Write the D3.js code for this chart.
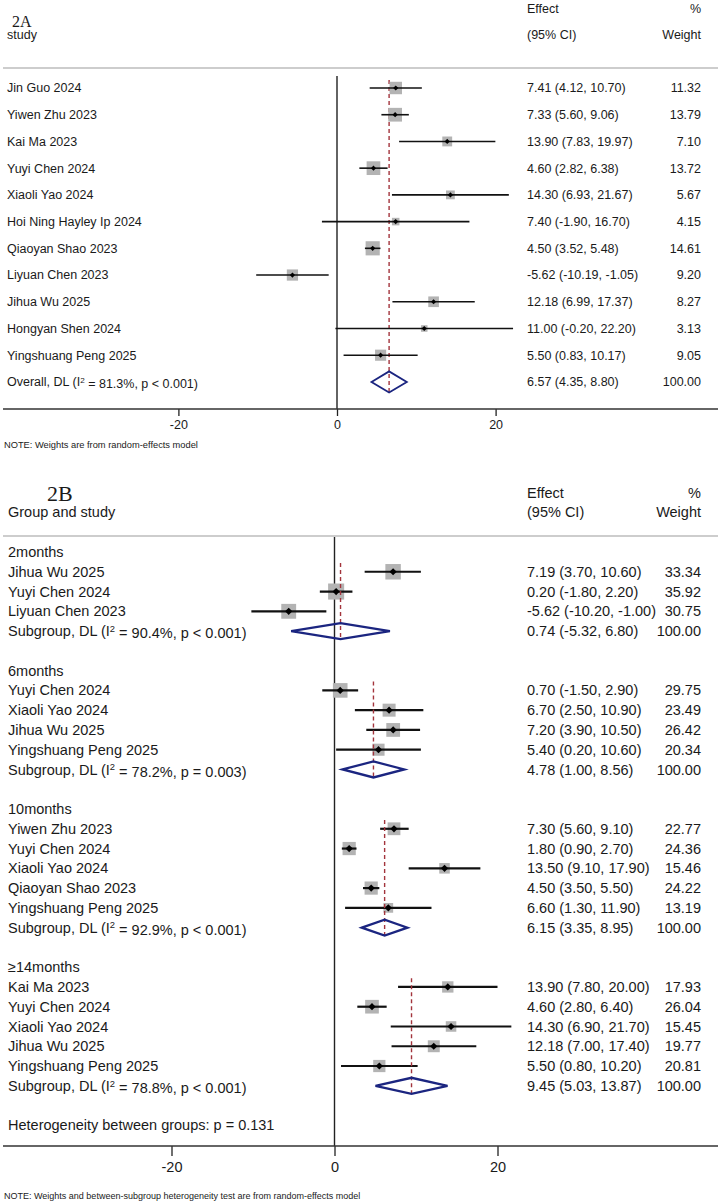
<!DOCTYPE html>
<html>
<head>
<meta charset="utf-8">
<script src="https://cdn.jsdelivr.net/npm/d3@7"></script>
<style>
body { margin: 0; background: #fff; }
text { font-family: "Liberation Sans", Arial, sans-serif; fill: #1a1a1a; }
</style>
</head>
<body>
<script>
// ---- panel 2A data ----
const studiesA = ["Jin Guo 2024", "Yiwen Zhu 2023", "Kai Ma 2023", "Yuyi Chen 2024", "Xiaoli Yao 2024",
  "Hoi Ning Hayley Ip 2024", "Qiaoyan Shao 2023", "Liyuan Chen 2023", "Jihua Wu 2025", "Hongyan Shen 2024",
  "Yingshuang Peng 2025"];
const effectA = [7.41, 7.33, 13.90, 4.60, 14.30, 7.40, 4.50, -5.62, 12.18, 11.00, 5.50];
const lowA = [4.12, 5.60, 7.83, 2.82, 6.93, -1.90, 3.52, -10.19, 6.99, -0.20, 0.83];
const highA = [10.70, 9.06, 19.97, 6.38, 21.67, 16.70, 5.48, -1.05, 17.37, 22.20, 10.17];
const weightA = [11.32, 13.79, 7.10, 13.72, 5.67, 4.15, 14.61, 9.20, 8.27, 3.13, 9.05];
const overallA = {label: "Overall, DL (I", i2: "81.3%", p: "p < 0.001", est: 6.57, low: 4.35, high: 8.80};

// ---- panel 2B data ----
const groupLabels = ["2months", "6months", "10months", "\u226514months"];
const studiesB = [
  ["Jihua Wu 2025", "Yuyi Chen 2024", "Liyuan Chen 2023"],
  ["Yuyi Chen 2024", "Xiaoli Yao 2024", "Jihua Wu 2025", "Yingshuang Peng 2025"],
  ["Yiwen Zhu 2023", "Yuyi Chen 2024", "Xiaoli Yao 2024", "Qiaoyan Shao 2023", "Yingshuang Peng 2025"],
  ["Kai Ma 2023", "Yuyi Chen 2024", "Xiaoli Yao 2024", "Jihua Wu 2025", "Yingshuang Peng 2025"]
];
const effectB = [[7.19, 0.20, -5.62], [0.70, 6.70, 7.20, 5.40], [7.30, 1.80, 13.50, 4.50, 6.60], [13.90, 4.60, 14.30, 12.18, 5.50]];
const lowB = [[3.70, -1.80, -10.20], [-1.50, 2.50, 3.90, 0.20], [5.60, 0.90, 9.10, 3.50, 1.30], [7.80, 2.80, 6.90, 7.00, 0.80]];
const highB = [[10.60, 2.20, -1.00], [2.90, 10.90, 10.50, 10.60], [9.10, 2.70, 17.90, 5.50, 11.90], [20.00, 6.40, 21.70, 17.40, 10.20]];
const weightB = [[33.34, 35.92, 30.75], [29.75, 23.49, 26.42, 20.34], [22.77, 24.36, 15.46, 24.22, 13.19], [17.93, 26.04, 15.45, 19.77, 20.81]];
const subEst = [0.74, 4.78, 6.15, 9.45];
const subLow = [-5.32, 1.00, 3.35, 5.03];
const subHigh = [6.80, 8.56, 8.95, 13.87];
const subI2 = ["90.4%", "78.2%", "92.9%", "78.8%"];
const subP = ["p < 0.001", "p = 0.003", "p < 0.001", "p < 0.001"];
const hetText = "Heterogeneity between groups: p = 0.131";

const tickVals = [-20, 0, 20];

const W = 718, H = 1202;
const colEffect = 527, colWeight = 701;
const sqColor = "#b3b3b3", diaColor = "#1b2580", refColor = "#a3343c";

const svg = d3.select("body")
  .append("svg")
  .attr("width", W)
  .attr("height", H);

const fmt = v => v.toFixed(2);
const ciText = (e, l, h) => `${fmt(e)} (${fmt(l)}, ${fmt(h)})`;

function header(g, o) {
  g.append("text").attr("x", o.titleX).attr("y", o.titleY).attr("dy", "0.35em")
    .style("font-family", "'Liberation Serif', 'Times New Roman', serif")
    .style("font-size", o.titleSize + "px").text(o.title);
  g.append("text").attr("x", o.textX).attr("y", o.y2).attr("dy", "0.35em")
    .style("font-size", o.fs + "px").text(o.colLabel);
  g.append("text").attr("x", colEffect).attr("y", o.y1).attr("dy", "0.35em")
    .style("font-size", o.fs + "px").text("Effect");
  g.append("text").attr("x", colWeight).attr("y", o.y1).attr("dy", "0.35em")
    .attr("text-anchor", "end").style("font-size", o.fs + "px").text("%");
  g.append("text").attr("x", colEffect).attr("y", o.y2).attr("dy", "0.35em")
    .style("font-size", o.fs + "px").text("(95% CI)");
  g.append("text").attr("x", colWeight).attr("y", o.y2).attr("dy", "0.35em")
    .attr("text-anchor", "end").style("font-size", o.fs + "px").text("Weight");
  g.append("line").attr("x1", 3).attr("x2", W).attr("y1", o.sepY).attr("y2", o.sepY)
    .attr("stroke", "#bdbdbd").attr("stroke-width", 1.5);
}

function studyRow(g, o, x, y, name, e, l, h, w) {
  g.append("text").attr("x", o.textX).attr("y", y).attr("dy", "0.35em")
    .style("font-size", o.fs + "px").text(name);
  const s = o.k * Math.sqrt(w);
  g.append("rect").attr("x", x(e) - s / 2).attr("y", y - s / 2)
    .attr("width", s).attr("height", s).attr("fill", sqColor);
  g.append("line").attr("x1", x(l)).attr("x2", x(h)).attr("y1", y).attr("y2", y)
    .attr("stroke", "#111").attr("stroke-width", o.ciW);
  const r = o.dot;
  g.append("path")
    .attr("d", `M${x(e) - r},${y}L${x(e)},${y - r}L${x(e) + r},${y}L${x(e)},${y + r}Z`)
    .attr("fill", "#000");
  g.append("text").attr("x", colEffect).attr("y", y).attr("dy", "0.35em")
    .style("font-size", o.fs + "px").text(ciText(e, l, h));
  g.append("text").attr("x", colWeight).attr("y", y).attr("dy", "0.35em")
    .attr("text-anchor", "end").style("font-size", o.fs + "px").text(fmt(w));
}

function pooledRow(g, o, x, y, prefix, i2, p, e, l, h) {
  const t = g.append("text").attr("x", o.textX).attr("y", y).attr("dy", "0.35em")
    .style("font-size", o.fs + "px");
  t.append("tspan").text(prefix);
  t.append("tspan").attr("dy", "-0.45em").style("font-size", (o.fs * 0.65) + "px").text("2");
  t.append("tspan").attr("dy", "0.45em").text(` = ${i2}, ${p})`);
  g.append("path")
    .attr("d", `M${x(l)},${y}L${x(e)},${y - o.dh}L${x(h)},${y}L${x(e)},${y + o.dh}Z`)
    .attr("fill", "none").attr("stroke", diaColor).attr("stroke-width", o.diaW);
  g.append("text").attr("x", colEffect).attr("y", y).attr("dy", "0.35em")
    .style("font-size", o.fs + "px").text(ciText(e, l, h));
  g.append("text").attr("x", colWeight).attr("y", y).attr("dy", "0.35em")
    .attr("text-anchor", "end").style("font-size", o.fs + "px").text("100.00");
}

function refLine(g, x, v, y1, y2) {
  g.append("line").attr("x1", x(v)).attr("x2", x(v)).attr("y1", y1).attr("y2", y2)
    .attr("stroke", refColor).attr("stroke-width", 1.4).attr("stroke-dasharray", "4,3");
}

function axis(g, o, x, axisY) {
  const ax = g.append("g")
    .attr("transform", `translate(0,${axisY})`)
    .call(d3.axisBottom(x).tickValues(tickVals).tickSize(o.tick).tickPadding(o.pad)
      .tickFormat(d => String(d)));
  ax.select(".domain").remove();
  ax.selectAll(".tick line").attr("stroke", "#222").attr("stroke-width", 1.3);
  ax.selectAll(".tick text").style("font-size", o.fs + "px")
    .style("font-family", "'Liberation Sans', Arial, sans-serif").attr("fill", "#1a1a1a");
  g.append("line").attr("x1", 3).attr("x2", W).attr("y1", axisY).attr("y2", axisY)
    .attr("stroke", "#333").attr("stroke-width", 1.5);
}

// ================= Panel 2A =================
const optA = {fs: 12.5, textX: 7, k: 3.7, ciW: 1.6, dot: 2.6, dh: 10.5, diaW: 1.8, tick: 7, pad: 4,
  title: "2A", titleX: 12, titleY: 21, titleSize: 16, colLabel: "study", y1: 9, y2: 35, sepY: 68};
const gA = svg.append("g");
const xA = d3.scaleLinear().domain([-20, 20]).range([178.4, 495.6]);
const rowA = i => 88 + i * 26.72;
const axisYA = 409;

header(gA, optA);
gA.append("line").attr("x1", xA(0)).attr("x2", xA(0)).attr("y1", 76).attr("y2", axisYA)
  .attr("stroke", "#222").attr("stroke-width", 1.4);
refLine(gA, xA, overallA.est, 80, rowA(studiesA.length) + optA.dh);

studiesA.forEach((s, i) => studyRow(gA, optA, xA, rowA(i), s, effectA[i], lowA[i], highA[i], weightA[i]));
pooledRow(gA, optA, xA, rowA(studiesA.length), overallA.label, overallA.i2, overallA.p,
  overallA.est, overallA.low, overallA.high);
axis(gA, optA, xA, axisYA);
gA.append("text").attr("x", 4).attr("y", 445).attr("dy", "0.35em")
  .style("font-size", "9.3px").text("NOTE: Weights are from random-effects model");

// ================= Panel 2B =================
const optB = {fs: 14.5, textX: 8, k: 2.68, ciW: 2.2, dot: 3.6, dh: 8, diaW: 2.3, tick: 10, pad: 6,
  title: "2B", titleX: 47, titleY: 493, titleSize: 22, colLabel: "Group and study", y1: 493, y2: 512, sepY: 536};
const gB = svg.append("g");
const xB = d3.scaleLinear().domain([-20, 20]).range([171.5, 497.5]);
const rowB = i => 552 + i * 19.77;
const axisYB = 1146;

header(gB, optB);
gB.append("line").attr("x1", xB(0)).attr("x2", xB(0)).attr("y1", 537).attr("y2", axisYB)
  .attr("stroke", "#222").attr("stroke-width", 1.4);

let r = 0;
groupLabels.forEach((lab, gi) => {
  gB.append("text").attr("x", optB.textX).attr("y", rowB(r)).attr("dy", "0.35em")
    .style("font-size", optB.fs + "px").text(lab);
  const first = r;
  r++;
  studiesB[gi].forEach((s, j) => {
    studyRow(gB, optB, xB, rowB(r), s, effectB[gi][j], lowB[gi][j], highB[gi][j], weightB[gi][j]);
    r++;
  });
  refLine(gB, xB, subEst[gi], rowB(first) + 11, rowB(r) + optB.dh);
  pooledRow(gB, optB, xB, rowB(r), "Subgroup, DL (I", subI2[gi], subP[gi], subEst[gi], subLow[gi], subHigh[gi]);
  r += 2;
});
// heterogeneity line sits one blank row below the last subgroup
gB.append("text").attr("x", optB.textX).attr("y", rowB(r)).attr("dy", "0.35em")
  .style("font-size", optB.fs + "px").text(hetText);

axis(gB, optB, xB, axisYB);
gB.append("text").attr("x", 4).attr("y", 1196).attr("dy", "0.35em")
  .style("font-size", "9px").text("NOTE: Weights and between-subgroup heterogeneity test are from random-effects model");
</script>
</body>
</html>
